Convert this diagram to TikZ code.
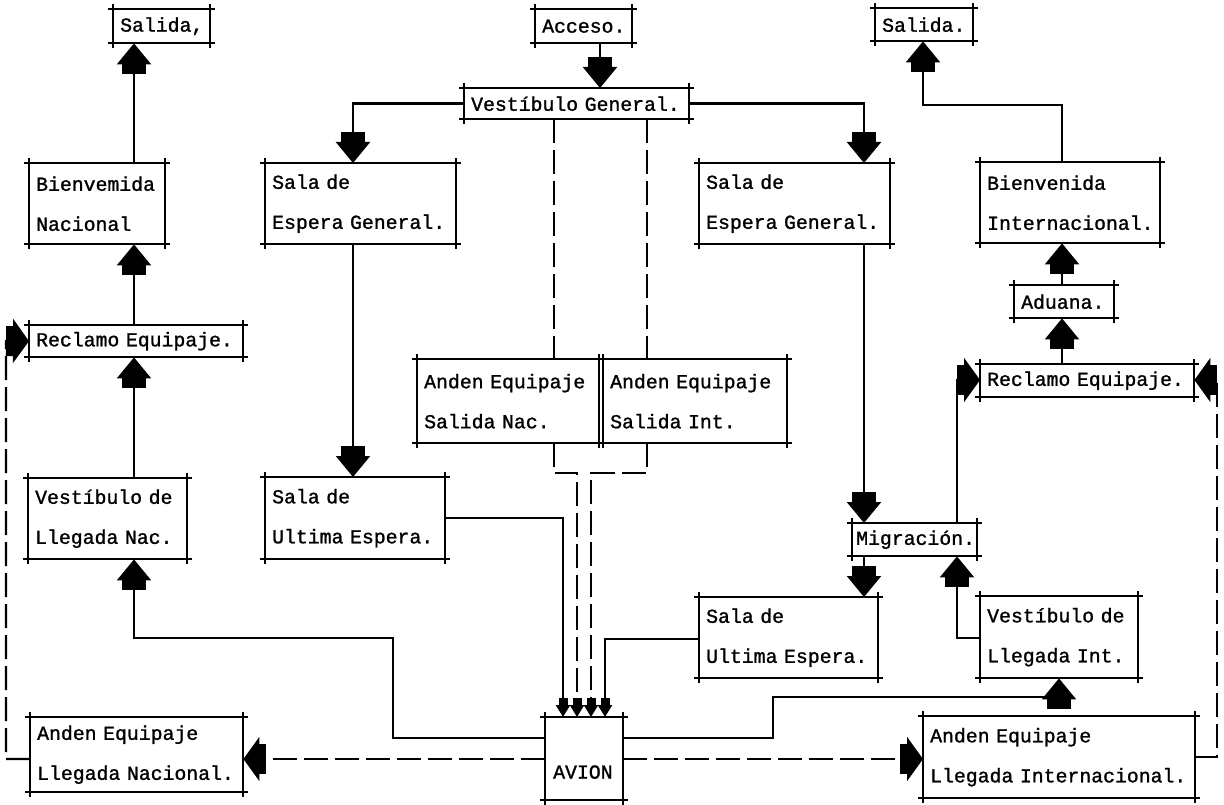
\documentclass[tikz,border=0pt]{standalone}
\usepackage{fontspec}
\newfontfamily\boxfont{Liberation Mono}[FakeBold=1.2]
\usetikzlibrary{arrows.meta}
\begin{document}
\begin{tikzpicture}[x=1pt,y=-1pt,
  conn/.style={line width=2.4pt},
  dconn/.style={line width=2.4pt, dash pattern=on 24pt off 7pt},
  house/.style={-{Rectangle[width=24pt,length=10pt,sep=0pt]Triangle[width=34pt,length=21pt,sep=0pt]}},
  hhouse/.style={-{Rectangle[width=30pt,length=7pt,sep=0pt]Triangle[width=44pt,length=16pt,sep=0pt]}},
  shouse/.style={-{Rectangle[width=9pt,length=7pt,sep=0pt]Triangle[width=14pt,length=12pt,sep=0pt]}},
  xbox/.style={inner xsep=4pt, inner ysep=0pt, align=left, anchor=north west,
    font=\boxfont\fontsize{19.8}{40}\selectfont, text=black},
  frame/.style={line width=2pt}
]
\useasboundingbox (0,0) rectangle (1224,805);
\fill[white] (0,0) rectangle (1224,805);

% boxes: left, top, width, height
\node[xbox, minimum width=97pt, minimum height=34pt, text width=89pt] (sal1) at (113,9) {\hspace{3pt}Salida,};
\node[xbox, minimum width=97pt, minimum height=34pt, text width=89pt] (acc) at (535,9) {\hspace{3pt}Acceso.};
\node[xbox, minimum width=98pt, minimum height=33pt, text width=90pt] (sal2) at (875,8) {\hspace{3pt}Salida.};
\node[xbox, minimum width=225pt, minimum height=31pt, text width=217pt] (vg) at (464,88) {\hspace{3pt}Vestíbulo General.};
\node[xbox, minimum width=136pt, minimum height=81pt, text width=128pt] (bn) at (29,163) {\hspace{3pt}Bienvemida\\\hspace{3pt}Nacional};
\node[xbox, minimum width=191pt, minimum height=81pt, text width=183pt] (sgl) at (265,163) {\hspace{3pt}Sala de\\\hspace{3pt}Espera General.};
\node[xbox, minimum width=191pt, minimum height=81pt, text width=183pt] (sgr) at (699,163) {\hspace{3pt}Sala de\\\hspace{3pt}Espera General.};
\node[xbox, minimum width=180pt, minimum height=81pt, text width=172pt] (bi) at (980,162) {\hspace{3pt}Bienvenida\\\hspace{3pt}Internacional.};
\node[xbox, minimum width=100pt, minimum height=33pt, text width=92pt] (adu) at (1014,285) {\hspace{3pt}Aduana.};
\node[xbox, minimum width=214pt, minimum height=33pt, text width=206pt] (recR) at (980,364) {\hspace{3pt}Reclamo Equipaje.};
\node[xbox, minimum width=214pt, minimum height=32pt, text width=206pt] (recL) at (29,325) {\hspace{3pt}Reclamo Equipaje.};
\node[xbox, minimum width=159pt, minimum height=81pt, text width=151pt] (vln) at (28,478) {\hspace{3pt}Vestíbulo de\\\hspace{3pt}Llegada Nac.};
\node[xbox, minimum width=180pt, minimum height=82pt, text width=172pt] (sul) at (265,477) {\hspace{3pt}Sala de\\\hspace{3pt}Ultima Espera.};
\node[xbox, minimum width=182pt, minimum height=84pt, text width=174pt] (asn) at (417,359) {\hspace{3pt}Anden Equipaje\\\hspace{3pt}Salida Nac.};
\node[xbox, minimum width=184pt, minimum height=84pt, text width=176pt] (asi) at (603,359) {\hspace{3pt}Anden Equipaje\\\hspace{3pt}Salida Int.};
\node[xbox, minimum width=125pt, minimum height=33pt, text width=117pt] (mig) at (852,523) {Migración.};
\node[xbox, minimum width=179pt, minimum height=81pt, text width=171pt] (sur) at (699,597) {\hspace{3pt}Sala de\\\hspace{3pt}Ultima Espera.};
\node[xbox, minimum width=158pt, minimum height=82pt, text width=150pt] (vli) at (980,596) {\hspace{3pt}Vestíbulo de\\\hspace{3pt}Llegada Int.};
\node[xbox, minimum width=213pt, minimum height=75pt, text width=205pt] (anl) at (30,717) {\hspace{3pt}Anden Equipaje\\\hspace{3pt}Llegada Nacional.};
\node[xbox, minimum width=78pt, minimum height=83pt, text width=70pt] (avion) at (545,717) {\mbox{}\\\hspace{4pt}AVION};
\node[xbox, minimum width=272pt, minimum height=82pt, text width=264pt] (ani) at (923,716) {\hspace{3pt}Anden Equipaje\\\hspace{3pt}Llegada Internacional.};

\foreach \n in {sal1,acc,sal2,vg,bn,sgl,sgr,bi,adu,recR,recL,vln,sul,asn,asi,mig,sur,vli,anl,avion,ani}{
  \draw[frame] ([xshift=-5pt]\n.north west) -- ([xshift=5pt]\n.north east);
  \draw[frame] ([xshift=-5pt]\n.south west) -- ([xshift=5pt]\n.south east);
  \draw[frame] ([yshift=5pt]\n.north west) -- ([yshift=-5pt]\n.south west);
  \draw[frame] ([yshift=5pt]\n.north east) -- ([yshift=-5pt]\n.south east);
}

% columns
\coordinate (cL) at (134,0);

% left chain
\draw[conn,house] (cL |- bn.north) -- (cL |- sal1.south);
\draw[conn,house] (cL |- recL.north) -- (cL |- bn.south);
\draw[conn,house] (cL |- vln.north) -- (cL |- recL.south);
\draw[conn,house] (avion.west |- 0,738) -- (393,738) -- (393,638) -- (134,638) -- (cL |- vln.south);
\draw[dconn,hhouse] (avion.west |- 0,759) -- (anl.east |- 0,759);
\draw[dconn,hhouse] (anl.west |- 0,759) -- (6,759) -- (6,341) -- (recL.west);

% centre top
\draw[conn,house] (600,0 |- acc.south) -- (600,0 |- vg.north);
\draw[conn,house] (vg.west) -- (353,0 |- vg.west) -- (353,0 |- sgl.north);
\draw[conn,house] (vg.east) -- (864,0 |- vg.east) -- (864,0 |- sgr.north);
\draw[conn,house] (353,0 |- sgl.south) -- (353,0 |- sul.north);
\draw[dconn] (554,0 |- vg.south) -- (554,0 |- asn.north);
\draw[dconn] (647,0 |- vg.south) -- (647,0 |- asi.north);

% into AVION
\draw[conn,shouse] (sul.east |- 0,518) -- (563,518) -- (563,0 |- avion.north);
\draw[dconn,shouse] (554,0 |- asn.south) -- (554,473) -- (577,473) -- (577,0 |- avion.north);
\draw[dconn,shouse] (647,0 |- asi.south) -- (647,473) -- (591,473) -- (591,0 |- avion.north);
\draw[conn,shouse] (sur.west |- 0,639) -- (605,639) -- (605,0 |- avion.north);

% right side
\draw[conn,house] (avion.east |- 0,738) -- (773,738) -- (773,697) -- (1059,697) -- (1059,0 |- vli.south);
\draw[dconn,hhouse] (avion.east |- 0,759) -- (ani.west |- 0,759);
\draw[dconn,hhouse] (ani.east |- 0,757) -- (1217,757) -- (1217,380) -- (recR.east |- 0,380);
\draw[conn,hhouse] (957,0 |- mig.north) -- (957,380) -- (recR.west |- 0,380);
\draw[conn,house] (864,0 |- sgr.south) -- (864,0 |- mig.north);
\draw[conn,house] (864,0 |- mig.south) -- (864,0 |- sur.north);
\draw[conn,house] (vli.west |- 0,638) -- (957,638) -- (957,0 |- mig.south);
\draw[conn,house] (1062,0 |- recR.north) -- (1062,0 |- adu.south);
\draw[conn,house] (1062,0 |- adu.north) -- (1062,0 |- bi.south);
\draw[conn,house] (1062,0 |- bi.north) -- (1062,105) -- (923,105) -- (923,0 |- sal2.south);
\end{tikzpicture}
\end{document}
